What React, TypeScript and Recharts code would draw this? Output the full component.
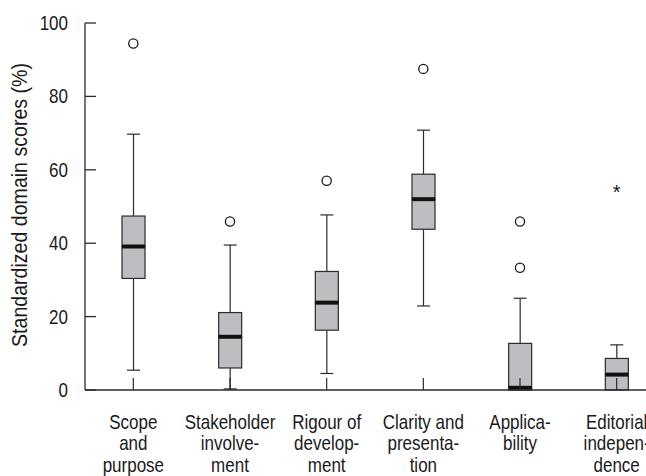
import React from 'react';
import { ComposedChart, Bar, XAxis, YAxis, Scatter } from 'recharts';

const categories = ['scope', 'stakeholder', 'rigour', 'clarity', 'applicability', 'editorial'];
const categoryLabels = [
  ['Scope', 'and', 'purpose'],
  ['Stakeholder', 'involve-', 'ment'],
  ['Rigour of', 'develop-', 'ment'],
  ['Clarity and', 'presenta-', 'tion'],
  ['Applica-', 'bility'],
  ['Editorial', 'indepen-', 'dence'],
];
const mins = [5.4, 0.3, 4.5, 22.9, 0, 0];
const q1s = [30.4, 6.0, 16.3, 43.8, 0, 0];
const medians = [39.1, 14.5, 23.8, 52.0, 0.6, 4.2];
const q3s = [47.4, 21.1, 32.3, 58.8, 12.7, 8.6];
const maxs = [69.7, 39.5, 47.7, 70.8, 25.0, 12.3];
const outlierCategories = ['scope', 'stakeholder', 'rigour', 'clarity', 'applicability', 'applicability'];
const outlierValues = [94.4, 45.9, 57.0, 87.5, 45.9, 33.3];
const extremeCategories = ['editorial'];
const extremeValues = [54.2];
const yTicks = [0, 20, 40, 60, 80, 100];

const data = categories.map((name, i) => ({
  name,
  base: mins[i],
  wLow: q1s[i] - mins[i],
  boxLow: medians[i] - q1s[i],
  boxHigh: q3s[i] - medians[i],
  wHigh: maxs[i] - q3s[i],
}));
const outlierData = outlierCategories.map((name, i) => ({ name, value: outlierValues[i] }));
const extremeData = extremeCategories.map((name, i) => ({ name, value: extremeValues[i] }));

const FONT = '"Liberation Sans", Arial, Helvetica, sans-serif';
const INK = '#2b2b2b';
const TEXT = '#1a1a1a';
const BOX_FILL = '#bdbec2';
const CAP = 13;
const SX = 0.85;

const Empty = () => null;

const WhiskerLow = (p: any) => {
  const { x, y, width, height } = p;
  if (!height || height <= 0) return null;
  const cx = x + width / 2;
  return (
    <g>
      <line x1={cx} x2={cx} y1={y} y2={y + height} stroke={INK} strokeWidth={1.2} />
      <line x1={cx - CAP / 2} x2={cx + CAP / 2} y1={y + height} y2={y + height} stroke={INK} strokeWidth={1.2} />
    </g>
  );
};

const WhiskerHigh = (p: any) => {
  const { x, y, width, height } = p;
  if (!height || height <= 0) return null;
  const cx = x + width / 2;
  return (
    <g>
      <line x1={cx} x2={cx} y1={y} y2={y + height} stroke={INK} strokeWidth={1.2} />
      <line x1={cx - CAP / 2} x2={cx + CAP / 2} y1={y} y2={y} stroke={INK} strokeWidth={1.2} />
    </g>
  );
};

const BoxLow = (p: any) => {
  const { x, y, width, height } = p;
  if (!height || height <= 0) return null;
  return <rect x={x} y={y} width={width} height={height} fill={BOX_FILL} stroke={INK} strokeWidth={1.2} />;
};

const BoxHigh = (p: any) => {
  const { x, y, width, height } = p;
  const h = height > 0 ? height : 0;
  return (
    <g>
      {h > 0 && <rect x={x} y={y} width={width} height={h} fill={BOX_FILL} stroke={INK} strokeWidth={1.2} />}
      <line x1={x} x2={x + width} y1={y + h} y2={y + h} stroke="#111" strokeWidth={4} />
    </g>
  );
};

const Circle = (p: any) => (
  <circle cx={p.cx} cy={p.cy} r={4.6} fill="#fff" stroke="#1a1a1a" strokeWidth={1.3} />
);

const Star = (p: any) => (
  <text x={p.cx} y={p.cy + 8} textAnchor="middle" fontSize={20} fontFamily={FONT} fill={TEXT}>*</text>
);

const YTick = (p: any) => {
  const { x, y, payload } = p;
  return (
    <g>
      <line x1={x} x2={x + 11} y1={y} y2={y} stroke={INK} strokeWidth={1.3} />
      <text
        transform={`translate(${x - 17},${y + 7}) scale(${SX},1)`}
        x={0}
        y={0}
        textAnchor="end"
        fontSize={20}
        fontFamily={FONT}
        fill={TEXT}
      >
        {payload.value}
      </text>
    </g>
  );
};

const XTick = (p: any) => {
  const { x, y, payload } = p;
  const idx = categories.indexOf(payload.value);
  const lines = categoryLabels[idx] || [];
  return (
    <g>
      <line x1={x} x2={x} y1={y} y2={y - 12} stroke={INK} strokeWidth={1.2} />
      <text
        transform={`translate(${x},${y + 39}) scale(${SX},1)`}
        x={0}
        y={0}
        textAnchor="middle"
        fontSize={20}
        fontFamily={FONT}
        fill={TEXT}
      >
        {lines.map((l, i) => (
          <tspan key={i} x={0} dy={i === 0 ? 0 : 21.5}>{l}</tspan>
        ))}
      </text>
    </g>
  );
};

const YTitle = () => (
  <text
    transform="translate(19,205) rotate(-90) scale(0.89,1)"
    x={0}
    y={0}
    textAnchor="middle"
    dominantBaseline="central"
    fontSize={22}
    fontFamily={FONT}
    fill={TEXT}
  >
    Standardized domain scores (%)
  </text>
);

export default function App() {
  return (
    <div style={{ position: 'fixed', left: 0, top: 0, width: 646, height: 476, overflow: 'hidden', background: '#fff' }}>
      <ComposedChart width={665} height={476} data={data} margin={{ top: 23, right: 0, bottom: 0, left: 0 }}>
        <XAxis
          dataKey="name"
          type="category"
          allowDuplicatedCategory={false}
          height={86}
          tickSize={0}
          tickMargin={0}
          tickLine={false}
          axisLine={{ stroke: INK, strokeWidth: 1.3 }}
          tick={<XTick />}
          interval={0}
        />
        <YAxis
          type="number"
          domain={[0, 100]}
          ticks={yTicks}
          width={85}
          tickSize={0}
          tickMargin={0}
          tickLine={false}
          axisLine={{ stroke: INK, strokeWidth: 1.3 }}
          tick={<YTick />}
          label={() => <YTitle />}
        />
        <Bar dataKey="base" stackId="box" barSize={23} shape={<Empty />} isAnimationActive={false} />
        <Bar dataKey="wLow" stackId="box" barSize={23} shape={<WhiskerLow />} isAnimationActive={false} />
        <Bar dataKey="boxLow" stackId="box" barSize={23} shape={<BoxLow />} isAnimationActive={false} />
        <Bar dataKey="boxHigh" stackId="box" barSize={23} shape={<BoxHigh />} isAnimationActive={false} />
        <Bar dataKey="wHigh" stackId="box" barSize={23} shape={<WhiskerHigh />} isAnimationActive={false} />
        <Scatter data={outlierData} dataKey="value" shape={<Circle />} isAnimationActive={false} />
        <Scatter data={extremeData} dataKey="value" shape={<Star />} isAnimationActive={false} />
      </ComposedChart>
    </div>
  );
}
